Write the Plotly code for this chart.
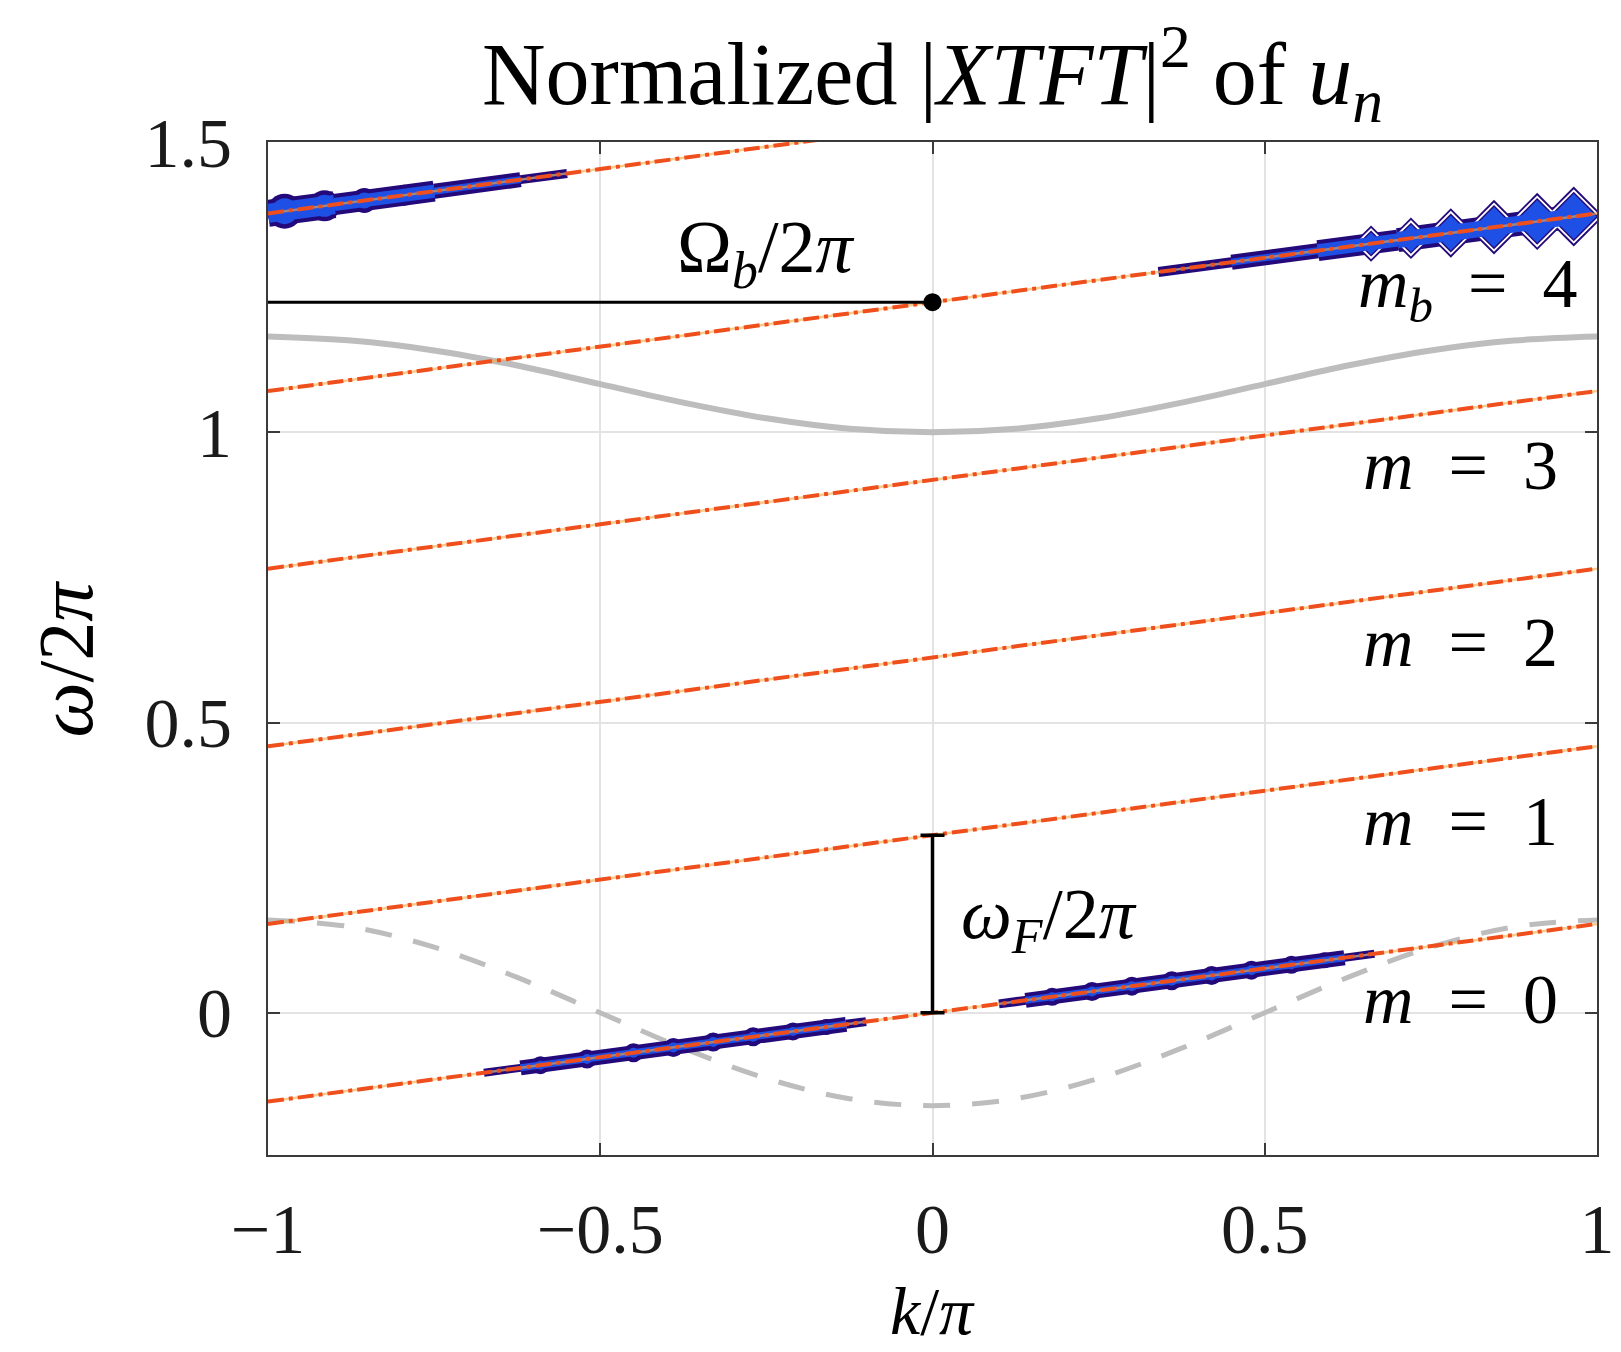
import numpy as np
import plotly.graph_objects as go

# ---------------- data ----------------
# Floquet-shifted dispersion lines  omega/2pi = line(k)  for m = 0..5
M_INDEX = [0, 1, 2, 3, 4, 5]
LINE_AT_KM1 = [-0.153, 0.153, 0.459, 0.765, 1.071, 1.377]   # value at k/pi = -1
LINE_AT_K1 = [0.153, 0.459, 0.765, 1.071, 1.377, 1.683]     # value at k/pi = +1

# grey dispersion curves
K_CURVE = [-1.0, -0.875, -0.75, -0.625, -0.5, -0.375, -0.25, -0.125, 0.0,
           0.125, 0.25, 0.375, 0.5, 0.625, 0.75, 0.875, 1.0]
UPPER_BAND = [1.165, 1.158, 1.141, 1.115, 1.083, 1.051, 1.024, 1.006, 1.000,
              1.006, 1.024, 1.051, 1.083, 1.115, 1.141, 1.158, 1.165]
LOWER_BAND = [0.160, 0.148, 0.113, 0.061, 0.000, -0.061, -0.113, -0.148, -0.160,
              -0.148, -0.113, -0.061, 0.000, 0.061, 0.113, 0.148, 0.160]

# spectral blobs: line index, band segments (k0, k1, thickness px), lobes (k, size px)
BLOB_LINES = [0, 0, 5, 4]
BLOB_SEGMENTS = [
    [(-0.675, -0.62, 8), (-0.62, -0.13, 15), (-0.13, -0.10, 9)],
    [(0.10, 0.14, 9), (0.14, 0.62, 15), (0.62, 0.665, 8)],
    [(-1.0, -0.90, 27), (-0.90, -0.75, 21), (-0.75, -0.62, 15), (-0.62, -0.55, 9)],
    [(0.34, 0.45, 10), (0.45, 0.58, 15), (0.58, 0.70, 21), (0.70, 0.975, 24)],
]
BLOB_LOBE_K = [
    [-0.59, -0.52, -0.45, -0.39, -0.33, -0.27, -0.21, -0.16],
    [0.18, 0.24, 0.30, 0.36, 0.42, 0.48, 0.54, 0.59],
    [-0.975, -0.915, -0.855, -0.795],
    [0.66, 0.72, 0.78, 0.845, 0.91, 0.965],
]
BLOB_LOBE_SIZE = [
    [18, 19, 19, 19, 19, 19, 18, 16],
    [18, 19, 19, 19, 19, 19, 18, 16],
    [35, 31, 25, 21],
    [28, 32, 38, 42, 44, 46],
]
BLOB_LOBE_SYMBOL = ["circle", "circle", "circle", "diamond"]

# annotation values
OMEGA_B = 1.224          # Omega_b / 2pi
OMEGA_F = 0.306          # omega_F / 2pi
M_LABELS = ["<i>m</i><sub><i>b</i></sub>  =  4", "<i>m</i>  =  3", "<i>m</i>  =  2",
            "<i>m</i>  =  1", "<i>m</i>  =  0"]
M_LABEL_Y = [1.247, 0.943, 0.637, 0.330, 0.023]
M_LABEL_X = [0.975, 0.945, 0.945, 0.945, 0.945]

X_TICKS = [-1, -0.5, 0, 0.5, 1]
X_TICK_TEXT = ["\u22121", "\u22120.5", "0", "0.5", "1"]
Y_TICKS = [0, 0.5, 1, 1.5]
Y_TICK_TEXT = ["0", "0.5", "1", "1.5"]

# ---------------- styling ----------------
FONT = "Liberation Serif"
NAVY = "#24097a"
BLUE = "#1e50e6"
LINE_COLOR = "#ee4f1c"
GREY = "#bdbdbd"


def line_y(idx, k):
    return np.interp(k, [-1.0, 1.0], [LINE_AT_KM1[idx], LINE_AT_K1[idx]])


fig = go.Figure()

# grey curves
fig.add_trace(go.Scatter(x=K_CURVE, y=UPPER_BAND, mode="lines", line_shape="spline",
                         line=dict(color=GREY, width=6), hoverinfo="skip"))
fig.add_trace(go.Scatter(x=K_CURVE, y=LOWER_BAND, mode="lines", line_shape="spline",
                         line=dict(color=GREY, width=5, dash="27px,22px"), hoverinfo="skip"))


def marker_layer(xs, ys, sym, size, color):
    return go.Scatter(x=xs, y=ys, mode="markers", opacity=1,
                      marker=dict(symbol=sym, size=size, color=color, opacity=1,
                                  line=dict(width=0)),
                      hoverinfo="skip")


# blobs
for b, idx in enumerate(BLOB_LINES):
    lk = np.array(BLOB_LOBE_K[b])
    ls = np.array(BLOB_LOBE_SIZE[b])
    ly = line_y(idx, lk)
    sym = BLOB_LOBE_SYMBOL[b]
    # outer contour (navy)
    for (k0, k1, w) in BLOB_SEGMENTS[b]:
        xs = [k0, k1]
        fig.add_trace(go.Scatter(x=xs, y=list(line_y(idx, np.array(xs))), mode="lines",
                                 line=dict(color=NAVY, width=w), hoverinfo="skip"))
    fig.add_trace(marker_layer(lk, ly, sym, ls, NAVY))
    if sym == "diamond":
        fig.add_trace(marker_layer(lk, ly, sym, ls - 4, "white"))
        fig.add_trace(marker_layer(lk, ly, sym, ls - 8, NAVY))
        fig.add_trace(marker_layer(lk, ly, sym, ls - 11, BLUE))
    # inner contour (blue)
    for (k0, k1, w) in BLOB_SEGMENTS[b]:
        xs = [k0, k1]
        fig.add_trace(go.Scatter(x=xs, y=list(line_y(idx, np.array(xs))), mode="lines",
                                 line=dict(color=BLUE, width=max(w - 8, 2)), hoverinfo="skip"))
    if sym != "diamond":
        fig.add_trace(marker_layer(lk, ly, sym, np.maximum(ls - 9, 2), BLUE))

# dispersion lines (dash-dot)
for i, m in enumerate(M_INDEX):
    fig.add_trace(go.Scatter(x=[-1, 1], y=[LINE_AT_KM1[i], LINE_AT_K1[i]], mode="lines",
                             line=dict(color="rgba(255,165,60,0.6)", width=2.5),
                             hoverinfo="skip"))
    fig.add_trace(go.Scatter(x=[-1, 1], y=[LINE_AT_KM1[i], LINE_AT_K1[i]], mode="lines",
                             line=dict(color=LINE_COLOR, width=4, dash="16px,5px,4px,5px"),
                             hoverinfo="skip"))

# Omega_b marker line and dot
fig.add_trace(go.Scatter(x=[-1, 0], y=[OMEGA_B, OMEGA_B], mode="lines",
                         line=dict(color="black", width=3), hoverinfo="skip"))
fig.add_trace(go.Scatter(x=[0], y=[OMEGA_B], mode="markers",
                         marker=dict(color="black", size=18), hoverinfo="skip"))

# omega_F bracket
fig.add_trace(go.Scatter(x=[0], y=[OMEGA_F / 2], mode="markers",
                         marker=dict(size=1, color="rgba(0,0,0,0)"),
                         error_y=dict(type="constant", value=OMEGA_F / 2, color="black",
                                      thickness=3.5, width=12),
                         hoverinfo="skip"))

annotations = []
annotations.append(dict(x=-0.252, y=1.31, xref="x", yref="y", showarrow=False,
                        text="\u03a9<sub><i>b</i></sub>/2<i>\u03c0</i>",
                        font=dict(family=FONT, size=74, color="black")))
annotations.append(dict(x=0.175, y=0.162, xref="x", yref="y", showarrow=False,
                        text="<i>\u03c9</i><sub><i>F</i></sub>/2<i>\u03c0</i>",
                        font=dict(family=FONT, size=72, color="black")))
for txt, xx, yy in zip(M_LABELS, M_LABEL_X, M_LABEL_Y):
    annotations.append(dict(x=xx, y=yy, xref="x", yref="y", showarrow=False,
                            xanchor="right", text=txt,
                            font=dict(family=FONT, size=70, color="black")))
annotations.append(dict(x=0.5, y=-0.154, xref="paper", yref="paper", showarrow=False,
                        text="<i>k</i>/<i>\u03c0</i>", yanchor="middle",
                        font=dict(family=FONT, size=68, color="black")))
annotations.append(dict(x=-0.152, y=0.49, xref="paper", yref="paper", showarrow=False,
                        text="<i>\u03c9</i>/2<i>\u03c0</i>", textangle=-90,
                        xanchor="center", yanchor="middle",
                        font=dict(family=FONT, size=78, color="black")))

axis_common = dict(showline=True, linecolor="#3a3a3a", linewidth=2, mirror="allticks",
                   ticks="inside", ticklen=12, tickwidth=2, tickcolor="#3a3a3a",
                   showgrid=True, gridcolor="#e3e3e3", gridwidth=1.5, zeroline=False,
                   tickfont=dict(family=FONT, size=70, color="#1a1a1a"))

fig.update_layout(
    width=1621, height=1352,
    margin=dict(l=260, r=32, t=134, b=205),
    paper_bgcolor="white", plot_bgcolor="white",
    showlegend=False,
    title=dict(text="Normalized |<i>XTFT</i>|<sup>2</sup> of <i>u</i><sub><i>n</i></sub>",
               x=0.5, xref="paper", xanchor="center", y=0.952, yanchor="middle",
               font=dict(family=FONT, size=88, color="black")),
    xaxis=dict(range=[-1, 1], tickvals=X_TICKS, ticktext=X_TICK_TEXT,
               ticklabelstandoff=12, **axis_common),
    yaxis=dict(range=[-0.245, 1.5], tickvals=Y_TICKS, ticktext=Y_TICK_TEXT,
               ticklabelstandoff=20, **axis_common),
    annotations=annotations,
)

fig.write_html("out.html")
